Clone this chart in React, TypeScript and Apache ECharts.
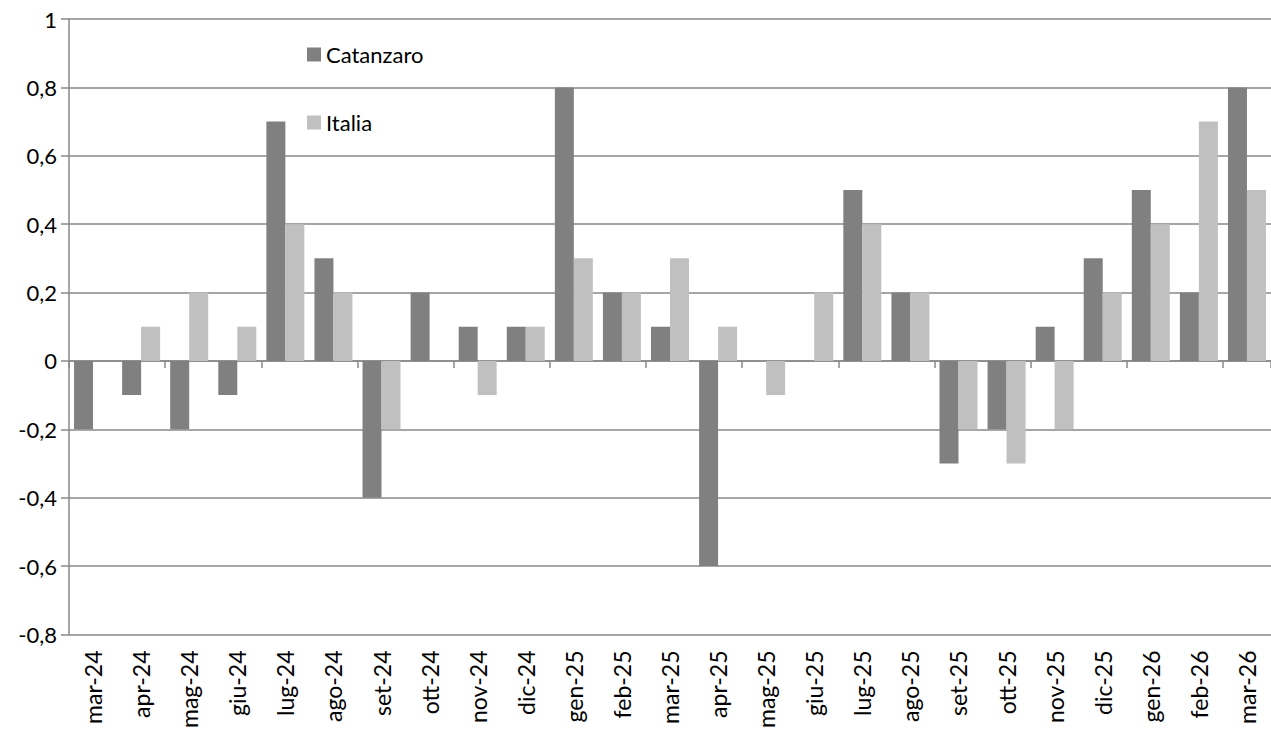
import React, { useEffect, useRef } from "react";
import * as echarts from "echarts";

const categories = [
  "mar-24", "apr-24", "mag-24", "giu-24", "lug-24", "ago-24", "set-24", "ott-24", "nov-24", "dic-24",
  "gen-25", "feb-25", "mar-25", "apr-25", "mag-25", "giu-25", "lug-25", "ago-25", "set-25", "ott-25",
  "nov-25", "dic-25", "gen-26", "feb-26", "mar-26",
];
const catanzaro = [
  -0.2, -0.1, -0.2, -0.1, 0.7, 0.3, -0.4, 0.2, 0.1, 0.1,
  0.8, 0.2, 0.1, -0.6, 0, 0, 0.5, 0.2, -0.3, -0.2,
  0.1, 0.3, 0.5, 0.2, 0.8,
];
const italia = [
  0, 0.1, 0.2, 0.1, 0.4, 0.2, -0.2, 0, -0.1, 0.1,
  0.3, 0.2, 0.3, 0.1, -0.1, 0.2, 0.4, 0.2, -0.2, -0.3,
  -0.2, 0.2, 0.4, 0.7, 0.5,
];
const seriesNames = ["Catanzaro", "Italia"];

const FONT = "Lato";
const GRID_COLOR = "#888888";

function fmt(v: number): string {
  const r = Math.round(v * 10) / 10;
  if (Number.isInteger(r)) return String(r);
  return r.toFixed(1).replace(".", ",");
}

export default function App() {
  const ref = useRef<HTMLDivElement>(null);
  useEffect(() => {
    if (!ref.current) return;
    const chart = echarts.init(ref.current, undefined, { renderer: "svg" });
    chart.setOption({
      animation: false,
      backgroundColor: "#ffffff",
      legend: {
        orient: "vertical",
        left: 307,
        top: 43,
        itemWidth: 14,
        itemHeight: 14,
        itemGap: 45,
        icon: "rect",
        padding: 0,
        textStyle: { fontFamily: FONT, fontSize: 22, color: "#000", lineHeight: 23 },
        data: seriesNames,
      },
      grid: { left: 69, top: 19, width: 1212, height: 617 },
      xAxis: [
        {
          type: "category",
          data: categories,
          axisLine: { onZero: true, lineStyle: { color: GRID_COLOR, width: 1.5 } },
          axisTick: { show: true, length: 7, lineStyle: { color: GRID_COLOR, width: 1.5 } },
          axisLabel: { show: false },
        },
        {
          type: "category",
          data: categories,
          position: "bottom",
          axisLine: { show: false, onZero: false },
          axisTick: { show: false },
          axisLabel: {
            rotate: 90,
            margin: 16,
            fontFamily: FONT,
            fontSize: 23,
            color: "#000",
            interval: 0,
          },
        },
      ],
      yAxis: {
        type: "value",
        min: -0.8,
        max: 1,
        interval: 0.2,
        axisLine: { show: true, lineStyle: { color: GRID_COLOR, width: 1.5 } },
        axisTick: { show: true, length: 8, lineStyle: { color: GRID_COLOR, width: 1.5 } },
        splitLine: { show: true, lineStyle: { color: GRID_COLOR, width: 1.5 } },
        axisLabel: {
          margin: 12,
          fontFamily: FONT,
          fontSize: 22,
          color: "#000",
          formatter: (v: number) => fmt(v),
        },
      },
      series: [
        {
          name: seriesNames[0],
          type: "bar",
          xAxisIndex: 0,
          data: catanzaro,
          itemStyle: { color: "#808080" },
          barGap: "0%",
          barCategoryGap: "21%",
        },
        {
          name: seriesNames[1],
          type: "bar",
          xAxisIndex: 0,
          data: italia,
          itemStyle: { color: "#c0c0c0" },
          barGap: "0%",
          barCategoryGap: "21%",
        },
      ],
    });
    return () => chart.dispose();
  }, []);
  return (
    <div
      ref={ref}
      style={{ position: "fixed", left: 0, top: 0, width: 1271, height: 731, background: "#fff" }}
    />
  );
}
